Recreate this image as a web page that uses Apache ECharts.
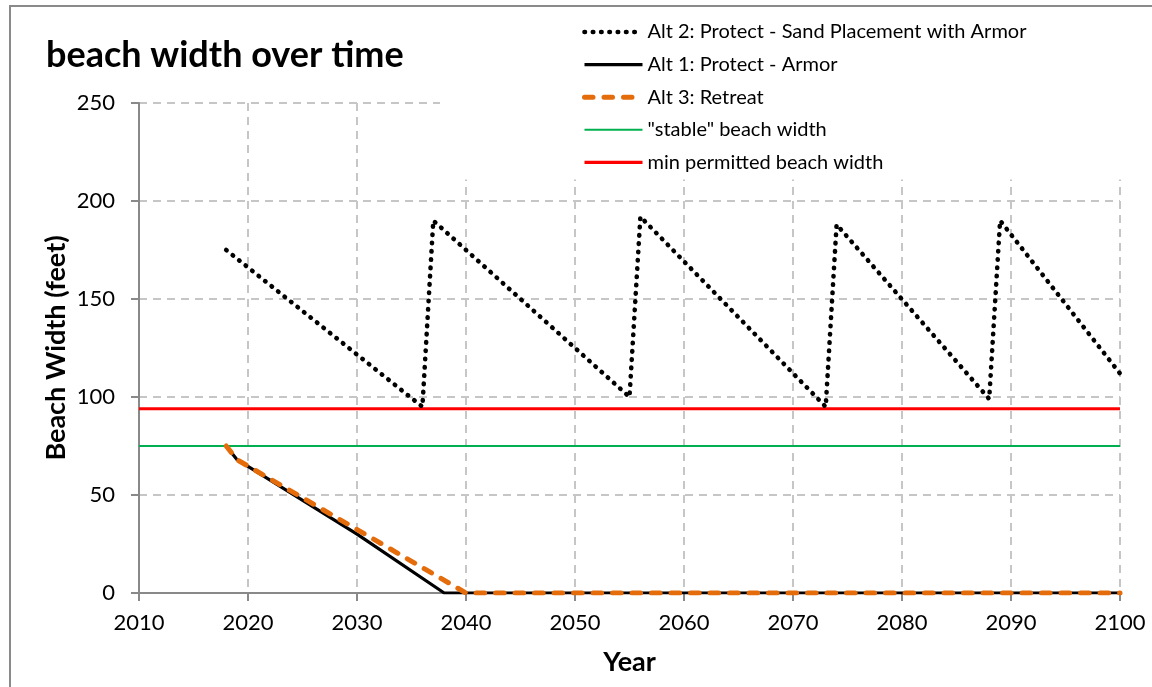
<!DOCTYPE html>
<html>
<head>
<meta charset="utf-8">
<script src="https://cdn.jsdelivr.net/npm/echarts@6/dist/echarts.min.js"></script>
<style>
  html, body { margin: 0; padding: 0; background: #fff; }
  #chart { width: 1152px; height: 687px; }
</style>
</head>
<body>
<div id="chart"></div>
<script>
// Beach width (feet) per alternative, as [year, width] vertices
const alt2SandPlacement = [
  [2018, 175], [2036, 95], [2037, 190],
  [2055, 100], [2056, 192],
  [2073, 95], [2074, 188],
  [2088, 99], [2089, 190],
  [2100, 112]
];
const alt1Armor = [[2018, 75], [2019, 68], [2030, 30], [2038, 0], [2100, 0]];
const alt3Retreat = [[2018, 75], [2019, 68], [2040, 0], [2100, 0]];
const stableWidth = [[2010, 75], [2100, 75]];
const minPermittedWidth = [[2010, 94], [2100, 94]];

const seriesNames = [
  'Alt 2: Protect - Sand Placement with Armor',
  'Alt 1: Protect - Armor',
  'Alt 3: Retreat',
  '"stable" beach width',
  'min permitted beach width'
];

const FONT = 'Lato, "Open Sans", sans-serif';
const gridDash = { type: [8, 6], color: '#c6c6c6', width: 2 };

const chart = echarts.init(document.getElementById('chart'), null, { renderer: 'canvas' });

chart.setOption({
  animation: false,
  backgroundColor: '#fff',
  title: {
    text: 'beach width over time',
    left: 46,
    top: 37,
    padding: 0,
    textStyle: { fontFamily: FONT, fontSize: 36, fontWeight: 'bold', color: '#000' }
  },
  legend: {
    orient: 'vertical',
    left: 440,
    top: 10,
    padding: [11, 100, 6, 142],
    backgroundColor: '#fff',
    itemWidth: 58,
    itemHeight: 14,
    itemGap: 10.6,
    data: seriesNames,
    itemStyle: { opacity: 0, color: 'rgba(0,0,0,0)', borderWidth: 0 },
    lineStyle: { width: 'inherit' },
    textStyle: { fontFamily: FONT, fontSize: 20, color: '#000', lineHeight: 22 }
  },
  grid: { left: 139, right: 32, top: 103, bottom: 94 },
  xAxis: {
    type: 'value',
    min: 2010,
    max: 2100,
    interval: 10,
    name: 'Year',
    nameLocation: 'middle',
    nameGap: 56,
    nameTextStyle: { fontFamily: FONT, fontSize: 27, fontWeight: 'bold', color: '#000' },
    axisLine: { lineStyle: { color: '#898989', width: 2 } },
    axisTick: { show: true, length: 8, lineStyle: { color: '#898989', width: 2 } },
    axisLabel: { fontFamily: FONT, fontSize: 22, color: '#000', margin: 19, formatter: v => String(v) },
    splitLine: { show: true, lineStyle: gridDash }
  },
  yAxis: {
    type: 'value',
    min: 0,
    max: 250,
    interval: 50,
    name: 'Beach Width (feet)',
    nameLocation: 'middle',
    nameGap: 69,
    nameMoveOverlap: false,
    nameTextStyle: { fontFamily: FONT, fontSize: 27, fontWeight: 'bold', color: '#000' },
    axisLine: { show: true, lineStyle: { color: '#898989', width: 2 } },
    axisTick: { show: true, length: 8, lineStyle: { color: '#898989', width: 2 } },
    axisLabel: { fontFamily: FONT, fontSize: 22, color: '#000', margin: 24 },
    splitLine: { show: true, lineStyle: gridDash }
  },
  graphic: [{
    type: 'rect',
    shape: { x: 10, y: 6, width: 1160, height: 700 },
    style: { fill: 'none', stroke: '#8a8a8a', lineWidth: 2 },
    silent: true,
    z: 10
  }],
  series: [
    {
      name: seriesNames[0],
      type: 'line',
      data: alt2SandPlacement,
      symbol: 'none',
      z: 3,
      lineStyle: { color: '#000', width: 4.6, type: [0.5, 7.8], cap: 'round', join: 'round' }
    },
    {
      name: seriesNames[1],
      type: 'line',
      data: alt1Armor,
      symbol: 'none',
      z: 3,
      lineStyle: { color: '#000', width: 3.2, type: 'solid', join: 'round' }
    },
    {
      name: seriesNames[2],
      type: 'line',
      data: alt3Retreat,
      symbol: 'none',
      z: 4,
      lineStyle: { color: '#e46c0a', width: 5, type: [8.5, 11], cap: 'round', join: 'round' }
    },
    {
      name: seriesNames[3],
      type: 'line',
      data: stableWidth,
      symbol: 'none',
      z: 2,
      lineStyle: { color: '#00b050', width: 2 }
    },
    {
      name: seriesNames[4],
      type: 'line',
      data: minPermittedWidth,
      symbol: 'none',
      z: 2,
      lineStyle: { color: '#ff0000', width: 3.2 }
    }
  ]
});
</script>
</body>
</html>
